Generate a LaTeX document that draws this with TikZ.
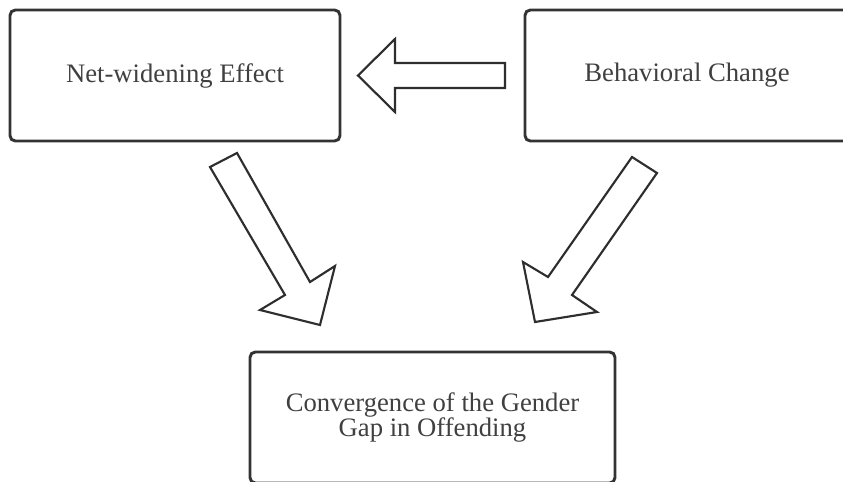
\documentclass[tikz,border=0pt]{standalone}
\usepackage{fontspec}
\setmainfont{Liberation Serif}
\definecolor{boxline}{HTML}{333333}
\definecolor{arrowline}{HTML}{2E2E2E}
\definecolor{labeltext}{HTML}{404040}
\begin{document}
\begin{tikzpicture}[x=0.75pt,y=-0.75pt,
  box/.style={draw=boxline, line width=2.2pt, rounded corners=4pt, fill=white,
    text=labeltext, font=\fontsize{20}{19}\selectfont, align=center, inner sep=0pt},
  blockarrow/.style={draw=arrowline, line width=1.6pt, fill=white, line join=miter}]
\useasboundingbox (0,0) rectangle (843,482);
\clip (0,0) rectangle (843,482);
\fill[white] (0,0) rectangle (843,482);

% boxes
\node[box, minimum width=247.5pt, minimum height=98.25pt] (net) at (175,75.5) {Net-widening Effect};
\node[box, minimum width=243pt, minimum height=98.25pt] (beh) at (687,75.5) {Behavioral Change};
\node[box, minimum width=273.75pt, minimum height=98.25pt] (conv) at (432.5,417.5)
  {Convergence of the Gender\\Gap in Offending};

% block arrows
\draw[blockarrow] (505,63) -- (395,63) -- (395,39) -- (358,75.5) -- (395,112)
  -- (395,88) -- (505,88) -- cycle;
\draw[blockarrow] (237,153) -- (310,282) -- (335,266) -- (320,325) -- (260,310)
  -- (285,295) -- (210,167) -- cycle;
\draw[blockarrow] (632,157) -- (548,277) -- (523,262) -- (535,322) -- (597,312)
  -- (572,295) -- (657,173) -- cycle;
\end{tikzpicture}
\end{document}
